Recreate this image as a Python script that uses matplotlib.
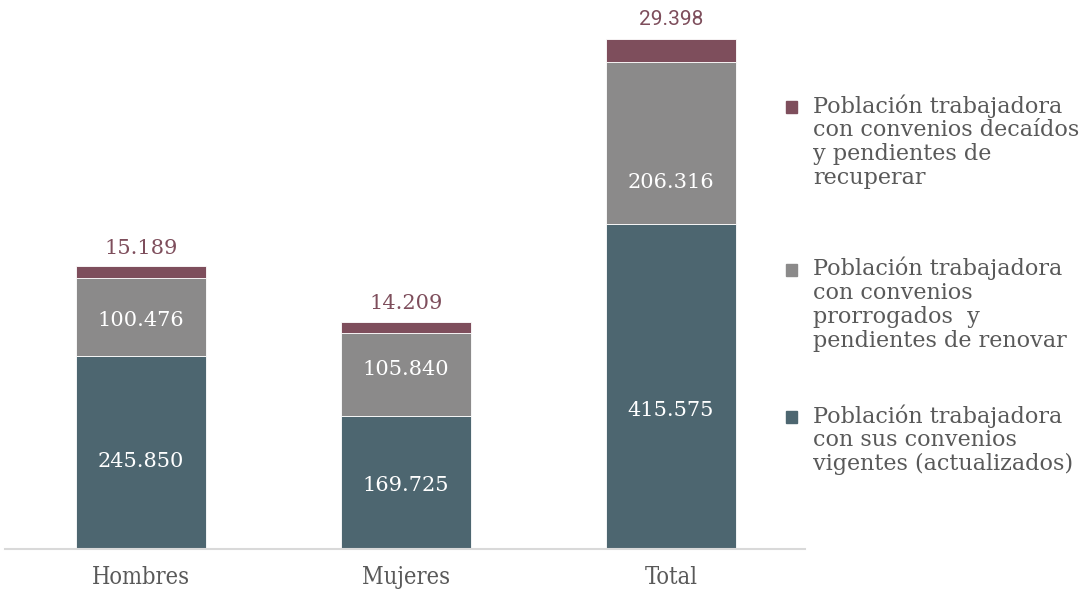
import matplotlib
matplotlib.use("Agg")
import matplotlib.pyplot as plt
from matplotlib.patches import Rectangle
from matplotlib.transforms import offset_copy

categories = ["Hombres", "Mujeres", "Total"]
vigentes = [245850, 169725, 415575]
prorrogados = [100476, 105840, 206316]
decaidos = [15189, 14209, 29398]
vig_labels = ["245.850", "169.725", "415.575"]
pro_labels = ["100.476", "105.840", "206.316"]
dec_labels = ["15.189", "14.209", "29.398"]
legend_labels = [
    "Población trabajadora\ncon convenios decaídos\ny pendientes de\nrecuperar",
    "Población trabajadora\ncon convenios\nprorrogados  y\npendientes de renovar",
    "Población trabajadora\ncon sus convenios\nvigentes (actualizados)",
]

c_vig = "#4D6670"
c_pro = "#8B8A8A"
c_dec = "#7E4E5C"
serif = "DejaVu Serif"

W, H = 1082, 594
fig = plt.figure(figsize=(W / 100, H / 100), dpi=100)
ax = fig.add_axes([5 / W, 45 / H, 800 / W, 549 / H])

x = list(range(len(categories)))
bw = 0.49
ax.bar(x, vigentes, bw, color=c_vig, edgecolor="white", linewidth=0.6)
ax.bar(x, prorrogados, bw, bottom=vigentes, color=c_pro, edgecolor="white", linewidth=0.6)
bot2 = [a + b for a, b in zip(vigentes, prorrogados)]
ax.bar(x, decaidos, bw, bottom=bot2, color=c_dec, edgecolor="white", linewidth=0.6)

# label placement nudges (pixels, positive = down), as in the reference
vig_nudge = [9, 3, 24]
pro_nudge = [3, -5, 40]
top_nudge = [0, -1, -2]

for i in x:
    t1 = offset_copy(ax.transData, fig=fig, x=0, y=-vig_nudge[i], units="dots")
    ax.text(i, vigentes[i] / 2, vig_labels[i], ha="center", va="center",
            color="white", fontsize=15, family=serif, transform=t1)
    t2 = offset_copy(ax.transData, fig=fig, x=0, y=-pro_nudge[i], units="dots")
    ax.text(i, vigentes[i] + prorrogados[i] / 2, pro_labels[i], ha="center", va="center",
            color="white", fontsize=15, family=serif, transform=t2)
    top = bot2[i] + decaidos[i]
    fam = "Roboto" if i == 2 else serif
    t3 = offset_copy(ax.transData, fig=fig, x=0, y=8 - top_nudge[i], units="dots")
    ax.text(i, top, dec_labels[i], ha="center", va="bottom",
            color=c_dec, fontsize=15, family=fam, transform=t3)

ax.set_xlim(-0.513, 2.506)
ax.set_ylim(0, 701000)
for s in ["top", "right", "left"]:
    ax.spines[s].set_visible(False)
ax.spines["bottom"].set_color("#D9D9D9")
ax.spines["bottom"].set_linewidth(1.5)
ax.set_yticks([])
ax.set_xticks(x)
ax.set_xticklabels(categories, family=serif, fontstretch="condensed", fontsize=17, color="#595959")
ax.tick_params(axis="x", length=0, pad=12)

# manual legend
leg_colors = [c_dec, c_pro, c_vig]
leg_top = [107, 270, 417]
for col, lab, yt in zip(leg_colors, legend_labels, leg_top):
    fig.patches.append(Rectangle((786 / W, 1 - (yt + 6) / H), 11 / W, 12 / H,
                                 transform=fig.transFigure, color=col))
    fig.text(813 / W, 1 - (yt - 13) / H, lab, ha="left", va="top", fontsize=16,
             family=serif, color="#595959", linespacing=1.1)

fig.savefig("out.png", dpi=100)
